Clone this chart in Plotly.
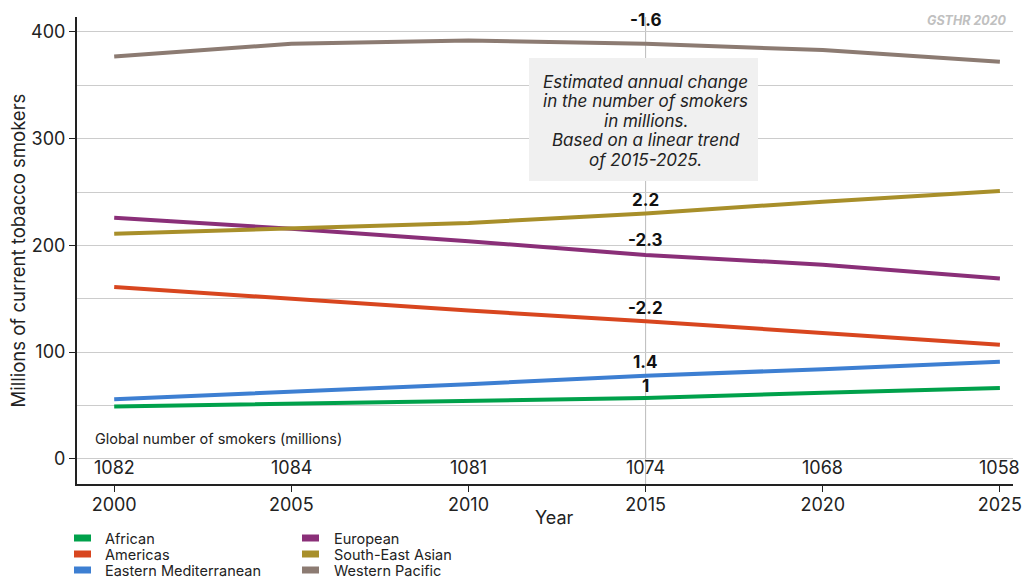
import plotly.graph_objects as go

years = [2000, 2005, 2010, 2015, 2020, 2025]
regions = ["African", "Americas", "Eastern Mediterranean", "European", "South-East Asian", "Western Pacific"]
colors = ["#00a14b", "#d8461f", "#3d7fd2", "#8a2f78", "#a88f2a", "#8c7b72"]
african = [49, 51.5, 54, 57, 62, 66.5]
americas = [161, 150, 139, 129, 118, 107]
eastern_med = [56, 63, 70, 78, 84, 91]
european = [226, 215.6, 204, 191, 182, 169]
se_asian = [211, 215.6, 221, 230, 241, 251]
western_pac = [377, 389, 392, 389, 383, 372]
series = [african, americas, eastern_med, european, se_asian, western_pac]

change_labels = ["1", "-2.2", "1.4", "-2.3", "2.2", "-1.6"]
change_label_y = [68.4, 141.5, 91, 205, 242.7, 411.5]
global_totals = ["1082", "1084", "1081", "1074", "1068", "1058"]
note_lines = ["Estimated annual change", "in the number of smokers", "in millions.",
              "Based on a linear trend", "of 2015-2025."]

FONT = "Inter"
TXT = "#222222"

W, H = 1026, 578
ML, MR, MT, MB = 77, 13, 17, 94
PW, PH = W - ML - MR, H - MT - MB


def px_to_paper(px, py):
    return (px - ML) / PW, (H - MB - py) / PH


fig = go.Figure()
for name, vals, col in zip(regions, series, colors):
    fig.add_trace(go.Scatter(
        x=years, y=vals, mode="lines", name=name,
        line=dict(color=col, width=4), showlegend=False,
    ))

# vertical reference line at 2015
fig.add_shape(type="line", x0=2015, x1=2015, xref="x", y0=0, y1=1, yref="paper",
              line=dict(color="#bbbbbb", width=1), layer="below")

for lbl, ly in zip(change_labels, change_label_y):
    fig.add_annotation(x=2015, y=ly, text="<b>%s</b>" % lbl, showarrow=False,
                       font=dict(family=FONT, size=17, color="#111111"),
                       xanchor="center", yanchor="middle")

for yr, tot in zip(years, global_totals):
    fig.add_annotation(x=yr, y=-8.5, text=tot, showarrow=False,
                       font=dict(family=FONT, size=18, color=TXT),
                       xanchor="center", yanchor="middle")

fig.add_annotation(x=1999.41, y=18.7, text="Global number of smokers (millions)", showarrow=False,
                   font=dict(family=FONT, size=14.5, color=TXT),
                   xanchor="left", yanchor="middle")

# note box (grey background) with italic text
bx0, by0 = px_to_paper(529, 181)
bx1, by1 = px_to_paper(758, 58)
fig.add_shape(type="rect", xref="paper", yref="paper", x0=bx0, x1=bx1, y0=by0, y1=by1,
              fillcolor="#f0f0f0", line=dict(width=0), layer="above")
for j, line in enumerate(note_lines):
    fig.add_annotation(x=2015, y=(459 - (82 + 19.5 * j)) / 1.0675, text="<i>%s</i>" % line,
                       showarrow=False, font=dict(family=FONT, size=17, color=TXT),
                       xanchor="center", yanchor="middle")

fig.add_annotation(x=1.0, y=1.0, xref="paper", yref="paper",
                   text="<b><i>GSTHR 2020</i></b>", showarrow=False,
                   font=dict(family=FONT, size=12.5, color="#c0c0c0"),
                   xanchor="right", yanchor="middle", xshift=-4, yshift=-3)

# x-axis title
yx, yy = px_to_paper(554, 517)
fig.add_annotation(x=yx, y=yy, xref="paper", yref="paper", text="Year", showarrow=False,
                   font=dict(family=FONT, size=18, color=TXT), xanchor="center", yanchor="middle")

# manual two-column legend
leg_cols = [(74, 103), (302, 332)]
leg_rows = [538, 554, 570]
for i, (name, col) in enumerate(zip(regions, colors)):
    sx, tx = leg_cols[i // 3]
    ry = leg_rows[i % 3]
    x0, y0 = px_to_paper(sx, ry - 3.5)
    x1, y1 = px_to_paper(sx + 17, ry + 3.5)
    fig.add_shape(type="rect", xref="paper", yref="paper", x0=x0, x1=x1, y0=y1, y1=y0,
                  fillcolor=col, line=dict(width=0))
    tx_p, ty_p = px_to_paper(tx, ry)
    fig.add_annotation(x=tx_p, y=ty_p, xref="paper", yref="paper", text=name, showarrow=False,
                       font=dict(family=FONT, size=14.5, color=TXT),
                       xanchor="left", yanchor="middle")

fig.update_layout(
    width=W, height=H,
    margin=dict(l=ML, r=MR, t=MT, b=MB, autoexpand=False),
    plot_bgcolor="white", paper_bgcolor="white",
    font=dict(family=FONT, size=16, color=TXT),
    showlegend=False,
    xaxis=dict(range=[1998.95, 2025.37], tickvals=years, ticks="outside", ticklen=6,
               tickcolor=TXT, showline=True, linecolor=TXT, linewidth=2,
               showgrid=False, zeroline=False, ticklabelstandoff=-3,
               tickfont=dict(family=FONT, size=18, color=TXT)),
    yaxis=dict(range=[-23.5, 414], tickvals=[0, 100, 200, 300, 400], ticks="outside", ticklen=6,
               tickcolor=TXT, showline=True, linecolor=TXT, linewidth=2,
               showgrid=True, gridcolor="#cccccc", gridwidth=1, zeroline=False,
               minor=dict(dtick=50, tick0=0, showgrid=True, gridcolor="#cccccc", gridwidth=1, ticks=""),
               tickfont=dict(family=FONT, size=18, color=TXT),
               title=dict(text="Millions of current tobacco smokers", font=dict(family=FONT, size=18.5, color=TXT), standoff=1)),
)

fig.write_html("out.html", config={"displayModeBar": False},
               post_script="document.body.style.margin='0';document.body.style.overflow='hidden';")
